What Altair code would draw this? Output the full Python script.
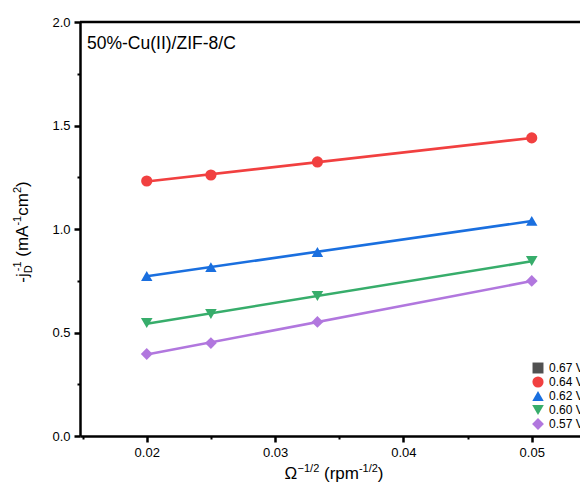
import altair as alt
import pandas as pd

# ---------------- data ----------------
series_names = ["0.67 V", "0.64 V", "0.62 V", "0.60 V", "0.57 V"]
colors = ["#515151", "#F14040", "#1A6FDF", "#37AD6B", "#B177DE"]
shapes = ["square", "circle", "triangle-up", "triangle-down", "diamond"]
marker_sizes = [120, 140, 175, 175, 170]

x_vals = [0.02, 0.025, 0.0333, 0.05]
y_064 = [1.232, 1.261, 1.324, 1.440]
y_062 = [0.773, 0.816, 0.889, 1.039]
y_060 = [0.546, 0.589, 0.676, 0.845]
y_057 = [0.396, 0.449, 0.551, 0.749]

x_ticks = [0.02, 0.03, 0.04, 0.05]
x_minor = [0.015, 0.025, 0.035, 0.045]
y_ticks = [0.0, 0.5, 1.0, 1.5, 2.0]
y_minor = [0.25, 0.75, 1.25, 1.75]

panel_label = "50%-Cu(II)/ZIF-8/C"

rows = []
for name, ys in [("0.64 V", y_064), ("0.62 V", y_062), ("0.60 V", y_060), ("0.57 V", y_057)]:
    for xv, yv in zip(x_vals, ys):
        rows.append({"x": xv, "y": yv, "series": name})
df = pd.DataFrame(rows)

# ---------------- layout ----------------
W, H = 500, 414
FONT = "Liberation Sans"

xscale = alt.Scale(domain=[0.0148, 0.05376], nice=False, zero=False)
yscale = alt.Scale(domain=[0, 2], nice=False, zero=False)

color_scale = alt.Scale(domain=series_names, range=colors)
color_enc = alt.Color("series:N", scale=color_scale, legend=alt.Legend(title=None))
shape_enc = alt.Shape("series:N", scale=alt.Scale(domain=series_names, range=shapes),
                      legend=alt.Legend(title=None))
size_enc = alt.Size("series:N", scale=alt.Scale(domain=series_names, range=marker_sizes),
                    legend=None)

major_x = alt.Axis(values=x_ticks, format=".2f", tickSize=6, tickWidth=2.5, domainWidth=2.5,
                   labelFontSize=13, labelPadding=4, grid=False, title=None, orient="bottom")
major_y = alt.Axis(values=y_ticks, format=".1f", tickSize=6, tickWidth=2.5, domainWidth=2.5,
                   labelFontSize=13, labelPadding=4, grid=False, title=None, orient="left")
minor_x = alt.Axis(values=x_minor, labels=False, domain=False, tickSize=3, tickWidth=2,
                   grid=False, title=None, orient="bottom")
minor_y = alt.Axis(values=y_minor, labels=False, domain=False, tickSize=3, tickWidth=2,
                   grid=False, title=None, orient="left")

lines = alt.Chart(df).transform_regression(
    "x", "y", groupby=["series"]
).mark_line(strokeWidth=2.6).encode(
    x=alt.X("x:Q", scale=xscale, axis=minor_x),
    y=alt.Y("y:Q", scale=yscale, axis=minor_y),
    color=color_enc,
)

points = alt.Chart(df).mark_point(filled=True, opacity=1, strokeWidth=0).encode(
    x=alt.X("x:Q", scale=xscale, axis=major_x),
    y=alt.Y("y:Q", scale=yscale, axis=major_y),
    color=color_enc,
    shape=shape_enc,
    size=size_enc,
)

one = alt.Data(values=[{"a": 1}])

top_frame = alt.Chart(one).mark_rule(color="black", strokeWidth=2.5).encode(
    x=alt.value(0), x2=alt.value(W), y=alt.value(0)
)


def txt(s, x, y, size, angle=0):
    kw = dict(text=s, fontSize=size, font=FONT, align="left", baseline="alphabetic", color="black")
    if angle:
        kw["angle"] = angle
    return alt.Chart(one).mark_text(**kw).encode(x=alt.value(x), y=alt.value(y))


# Arial / Liberation Sans advance widths (em)
AW = {"-": 0.333, "\u2212": 0.584, "j": 0.222, "D": 0.722, "1": 0.556, "2": 0.556, "/": 0.278,
      " ": 0.278, "(": 0.333, ")": 0.333, "m": 0.833, "A": 0.667, "c": 0.5, "r": 0.333,
      "p": 0.556, "\u03a9": 0.768}


def tw(s, size):
    return sum(AW.get(ch, 0.55) for ch in s) * size


F, f = 17, 11
SUP, SUB = 7, 4

# x-axis title: Ω^{−1/2} (rpm^{-1/2})  (None = a space of the main font)
xpieces = [("\u03a9", F, 0), ("\u22121/2", f, -SUP), (None, F, 0), ("(rpm", F, 0),
           ("-1/2", f, -SUP), (")", F, 0)]
total = sum(tw(s if s else " ", sz) for s, sz, _ in xpieces)
cx = 254 - total / 2
xbase = 457
xtitle = []
for s, sz, off in xpieces:
    if s:
        xtitle.append(txt(s, cx, xbase + off, sz))
    cx += tw(s if s else " ", sz)

# y-axis title: -j_D^{-1} (mA^{-1}cm^{2}) rotated, reading upward
ybase = -52
dwidth = max(tw("D", f), tw("-1", f) + 2)
ytotal = tw("-j", F) + dwidth + tw(" ", F) + tw("(mA", F) + tw("-1", f) + tw("cm", F) + tw("2", f) + tw(")", F)
cy = H / 2 + ytotal / 2 + 3
ytitle = []
ytitle.append(txt("-j", ybase, cy, F, 270)); cy -= tw("-j", F)
ytitle.append(txt("D", ybase + SUB, cy, f, 270))
ytitle.append(txt("-1", ybase - SUP, cy - 2, f, 270)); cy -= dwidth
cy -= tw(" ", F)
ytitle.append(txt("(mA", ybase, cy, F, 270)); cy -= tw("(mA", F)
ytitle.append(txt("-1", ybase - SUP, cy, f, 270)); cy -= tw("-1", f)
ytitle.append(txt("cm", ybase, cy, F, 270)); cy -= tw("cm", F)
ytitle.append(txt("2", ybase - SUP, cy, f, 270)); cy -= tw("2", f)
ytitle.append(txt(")", ybase, cy, F, 270))

label = txt(panel_label, 7, 27, 17.5)

chart = alt.layer(
    lines, points, top_frame, label, *xtitle, *ytitle
).resolve_axis(
    x="independent", y="independent"
).properties(
    width=W, height=H,
    autosize=alt.AutoSizeParams(type="none"),
    padding={"left": 72, "top": 14, "right": 0, "bottom": 48},
).configure_view(
    stroke=None
).configure_axis(
    domainColor="black", tickColor="black", labelColor="black", labelFont=FONT,
).configure_legend(
    orient="none", legendX=452, legendY=340, labelFontSize=12, labelFont=FONT,
    symbolSize=90, rowPadding=2, padding=0, labelOffset=5, symbolStrokeWidth=0,
    labelColor="black",
)

chart.save("out.html", embed_options={"renderer": "svg", "actions": False})
